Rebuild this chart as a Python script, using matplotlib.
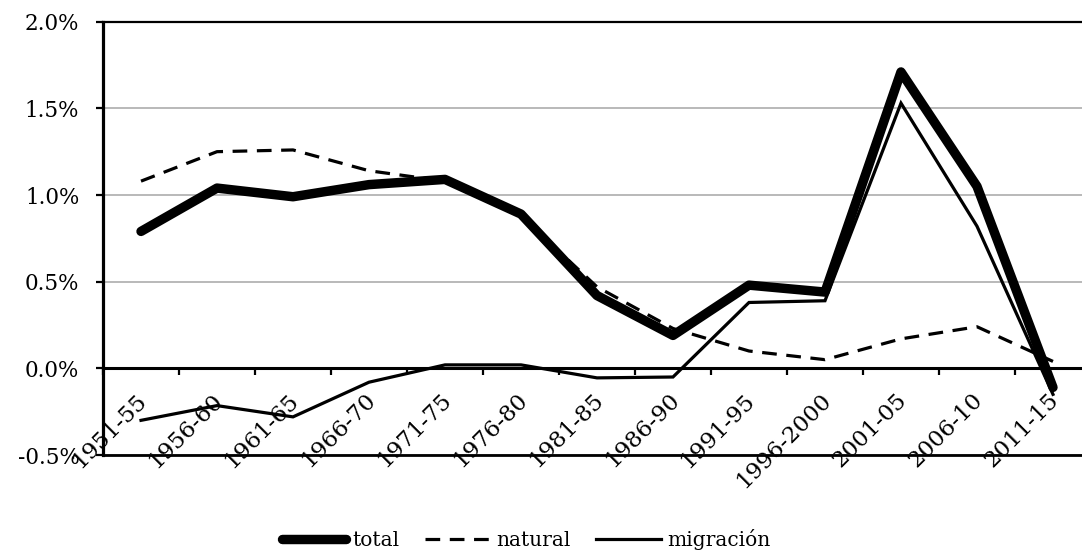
import numpy as np
import matplotlib
matplotlib.use("Agg")
import matplotlib.pyplot as plt
from matplotlib.ticker import FuncFormatter
from matplotlib.transforms import ScaledTranslation

## Data -------------------

periods = ["1951-55", "1956-60", "1961-65", "1966-70", "1971-75", "1976-80",
           "1981-85", "1986-90", "1991-95", "1996-2000", "2001-05", "2006-10",
           "2011-15"]

# annual growth rates, in percent
total = [0.79, 1.04, 0.99, 1.06, 1.09, 0.89, 0.42, 0.19, 0.48, 0.44, 1.71, 1.05, -0.11]
natural = [1.08, 1.25, 1.26, 1.14, 1.08, 0.88, 0.47, 0.23, 0.10, 0.05, 0.17, 0.24, 0.04]
migracion = [-0.30, -0.215, -0.28, -0.08, 0.02, 0.02, -0.055, -0.05, 0.38, 0.39, 1.53, 0.82, -0.15]

y_ticks = [-0.5, 0.0, 0.5, 1.0, 1.5, 2.0]

## Plotting -------------------

plt.rcParams["font.family"] = "DejaVu Serif"

fig = plt.figure(figsize=(10.82, 5.53), dpi=100)
ax = fig.add_axes([0.0952, 0.1772, 0.9131, 0.7836])

x = np.arange(len(periods))

ax.plot(x, total, color="black", lw=6.8, solid_capstyle="round",
        solid_joinstyle="round", label="total", zorder=3)
ax.plot(x, natural, color="black", lw=2.3, dashes=(4.6, 3.0),
        dash_capstyle="butt", label="natural", zorder=4)
ax.plot(x, migracion, color="black", lw=2.3, solid_joinstyle="miter",
        label="migración", zorder=5)

# axes limits and the value axis
ax.set_xlim(-0.5, len(periods) - 0.5)
ax.set_ylim(-0.5, 2.0)
ax.set_yticks(y_ticks)
ax.yaxis.set_major_formatter(FuncFormatter(lambda v, pos: f"{v:.1f}%"))
ax.tick_params(axis="y", direction="out", length=5, width=1.6, pad=12,
               labelsize=15.5)
ax.yaxis.grid(True, color="#a6a6a6", lw=1.1, zorder=0)
ax.set_axisbelow(True)

# category axis sits on the zero line
ax.spines["bottom"].set_position(("data", 0))
ax.spines["bottom"].set_linewidth(2.2)
ax.spines["left"].set_linewidth(2.3)
ax.spines["top"].set_linewidth(1.6)
ax.spines["right"].set_visible(False)
ax.axhline(-0.5, color="black", lw=2.0, clip_on=False, zorder=2)

ax.set_xticks(x)
ax.set_xticklabels(periods, rotation=45, ha="right", va="top",
                   rotation_mode="anchor", fontsize=16.5)
ax.set_xticks(np.arange(-0.5, len(periods), 1), minor=True)
ax.tick_params(axis="x", which="major", length=0, pad=15)
ax.tick_params(axis="x", which="minor", direction="out", length=5, width=1.6)
shift = ScaledTranslation(-0.05, 0, fig.dpi_scale_trans)
for lab in ax.get_xticklabels():
    lab.set_transform(lab.get_transform() + shift)

# legend below the chart
fig.legend(loc="center", bbox_to_anchor=(0.486, 0.024), ncol=3, frameon=False,
           fontsize=14.5, handlelength=3.2, handletextpad=0.3,
           columnspacing=1.3, borderpad=0)

fig.savefig("out.png", dpi=100)
